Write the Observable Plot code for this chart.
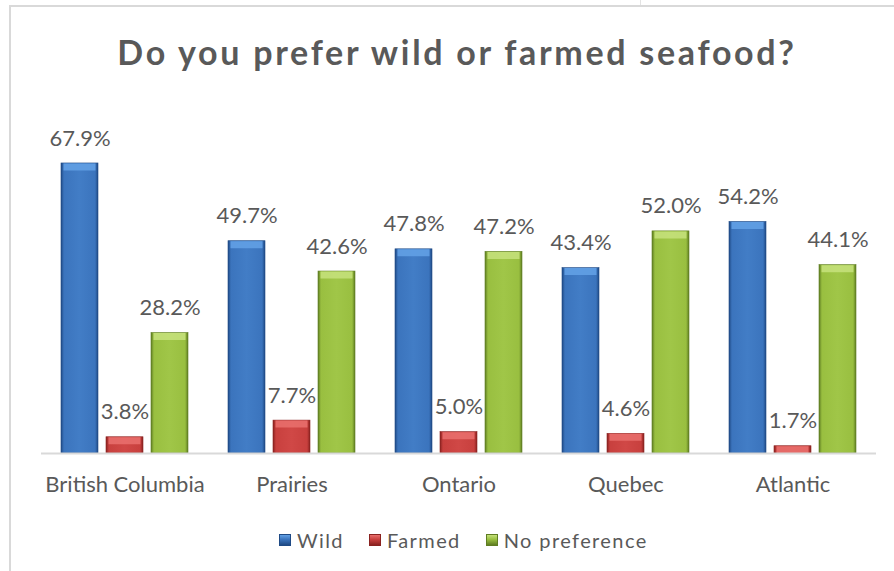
<!DOCTYPE html>
<html><head><meta charset="utf-8">
<script src="https://cdn.jsdelivr.net/npm/d3@7"></script>
<script src="https://cdn.jsdelivr.net/npm/@observablehq/plot@0.6"></script>
<style>
body{margin:0;background:#fff;font-family:Lato,"Open Sans",sans-serif;}
#wrap{position:relative;width:894px;height:571px;overflow:hidden;background:#fff;}
#plot{position:absolute;left:0;top:0;}
.ln{position:absolute;background:#d9d9d9;}
#title{position:absolute;left:0;width:914px;top:34px;text-align:center;font-size:34px;line-height:36px;font-weight:700;color:#595959;white-space:nowrap;letter-spacing:2.7px;}
#legend{position:absolute;top:528px;left:279px;display:flex;align-items:center;font-size:20px;line-height:24px;color:#595959;white-space:nowrap;letter-spacing:1.4px;}
#legend .it{display:flex;align-items:center;margin-right:25px;}
#legend .sw{width:12px;height:12px;margin-right:6px;box-sizing:border-box;}
</style></head><body>
<div id="wrap">
  <div class="ln" style="left:9px;top:5px;width:885px;height:2px"></div>
  <div class="ln" style="left:9px;top:5px;width:2px;height:566px"></div>
  <div class="ln" style="left:640px;top:0;width:1px;height:5px;background:#e3e3e3"></div>
  <div id="plot"></div>
  <div id="title">Do you prefer wild or farmed seafood?</div>
  <div id="legend"></div>
</div>
<script>
const regions = ["British Columbia", "Prairies", "Ontario", "Quebec", "Atlantic"];
const series = ["Wild", "Farmed", "No preference"];
const wild = [67.9, 49.7, 47.8, 43.4, 54.2];
const farmed = [3.8, 7.7, 5.0, 4.6, 1.7];
const noPref = [28.2, 42.6, 47.2, 52.0, 44.1];

const seriesValues = [wild, farmed, noPref];
const base = ["#3b74bd", "#c8403e", "#99bf40"];
const mid = ["#427dc6", "#d04846", "#a0c648"];
const dark = ["#1f4a85", "#8a2220", "#5f7d22"];
const light = ["#62a0e4", "#e86e6c", "#c4e07a"];
const gradIds = ["gWild", "gFarmed", "gNone"];

const data = [];
series.forEach((s, si) => regions.forEach((r, ri) => data.push({region: r, series: s, si, value: seriesValues[si][ri]})));

const marks = [];
series.forEach((s, si) => {
  const sub = data.filter(d => d.si === si);
  marks.push(Plot.barY(sub, {fx: "region", x: "series", y: "value", fill: `url(#${gradIds[si]})`, stroke: dark[si], strokeWidth: 0.6}));
  marks.push(Plot.tickY(sub, {fx: "region", x: "series", y: "value", stroke: light[si], strokeWidth: 7, dy: 3.5, insetLeft: 2.5, insetRight: 2.5, strokeOpacity: 0.9}));
});
marks.push(Plot.ruleY([0], {stroke: "#d9d9d9", strokeWidth: 2}));
marks.push(Plot.text(data, {fx: "region", x: "series", y: "value", text: d => d.value.toFixed(1) + "%", dy: -25, fontSize: 22, fill: "#595959"}));
marks.push(Plot.axisFx({anchor: "bottom", tickSize: 0, tickPadding: 23, fontSize: 22, fill: "#595959", label: null}));

const chart = Plot.plot({
  width: 894,
  height: 571,
  marginLeft: 40,
  marginRight: 17,
  marginTop: 154,
  marginBottom: 118,
  style: {fontFamily: "Lato, 'Open Sans', sans-serif", background: "transparent", overflow: "visible"},
  fx: {domain: regions, padding: 0, label: null},
  x: {domain: series, paddingInner: 0.174, paddingOuter: 0.407, axis: null},
  y: {domain: [0, 70], axis: null},
  marks
});

const ns = "http://www.w3.org/2000/svg";
const defs = document.createElementNS(ns, "defs");
gradIds.forEach((id, i) => {
  const g = document.createElementNS(ns, "linearGradient");
  g.setAttribute("id", id);
  g.setAttribute("x1", "0"); g.setAttribute("x2", "1"); g.setAttribute("y1", "0"); g.setAttribute("y2", "0");
  [[0, dark[i]], [0.08, base[i]], [0.5, mid[i]], [0.92, base[i]], [1, dark[i]]].forEach(([o, c]) => {
    const st = document.createElementNS(ns, "stop");
    st.setAttribute("offset", o);
    st.setAttribute("stop-color", c);
    g.appendChild(st);
  });
  defs.appendChild(g);
});
chart.insertBefore(defs, chart.firstChild);
document.getElementById("plot").appendChild(chart);

const legend = document.getElementById("legend");
series.forEach((s, i) => {
  const it = document.createElement("div");
  it.className = "it";
  const sw = document.createElement("div");
  sw.className = "sw";
  sw.style.background = `linear-gradient(to bottom, ${light[i]} 0%, ${base[i]} 45%, ${dark[i]} 100%)`;
  sw.style.border = `1px solid ${dark[i]}`;
  const tx = document.createElement("span");
  tx.textContent = s;
  it.appendChild(sw); it.appendChild(tx);
  legend.appendChild(it);
});
</script>
</body></html>
